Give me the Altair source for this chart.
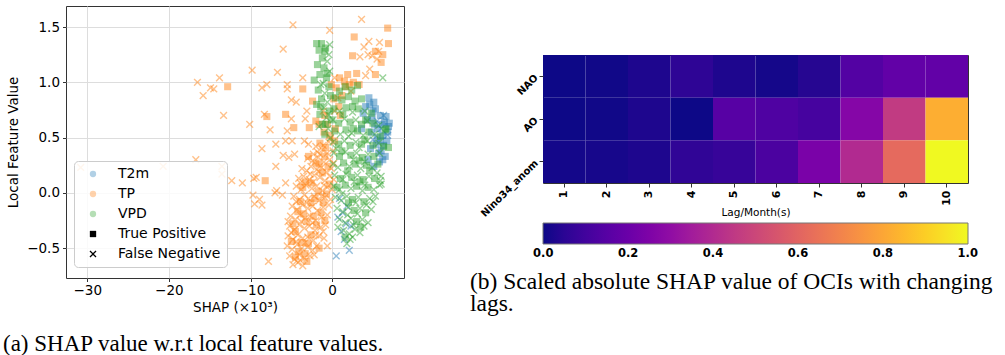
import altair as alt
import pandas as pd

# ---------------- panel (a): SHAP vs local feature value ----------------
# (shap x1e3, local feature value) pairs
T2M_TP = [(4.6,0.80),(5.3,0.76),(5.9,0.70),(6.4,0.64),(6.9,0.60),(6.2,0.52),(6.7,0.47),(5.6,0.58),
          (4.9,0.68),(5.4,0.44),(6.0,0.38),(6.5,0.33),(5.8,0.28),(4.8,0.55),(6.8,0.55),(4.1,0.78),
          (5.1,0.82),(6.1,0.62),(5.7,0.36),(4.4,0.30),(5.0,0.74),(6.3,0.43),(5.5,0.50),(4.3,0.66),
          (3.8,0.72),(4.5,0.86),(5.2,0.62),(6.6,0.69),(7.0,0.63),(5.9,0.47),(6.2,0.30),(5.1,0.24),
          (4.7,0.40),(3.6,0.58)]
T2M_FN = [(0.9,-0.05),(1.3,-0.18),(1.7,-0.28),(1.1,-0.35),(2.1,-0.52),(0.5,-0.57),(1.8,-0.12),
          (6.3,0.70),(5.5,0.65),(6.8,0.52),(1.5,-0.42),(0.7,-0.22),(2.3,-0.30),(6.0,0.58),(5.0,0.48)]

TP_TP = [(-12.8,0.96),(-8.0,0.69),(-8.2,0.11),(-3.6,0.94),(-5.7,0.71),(-4.7,0.59),(-2.8,0.59),
         (-2.4,0.83),(6.8,1.49),(2.7,1.41),(5.3,1.28),(6.9,1.35),(6.2,1.25),(6.0,1.18),(2.5,1.24),
         (5.3,1.07),(1.9,1.07),(3.0,1.08),(2.1,0.98),(0.9,1.04),(1.5,1.01),(-0.1,0.98),(-2.0,0.65),
         (0.5,0.95),(1.2,0.88),(0.8,0.78),(1.6,0.96),(0.2,0.85),(1.0,0.70),(2.6,1.00),(3.3,0.98),
         (-1.6,0.62),(-0.9,0.70),
         (-1.5,0.45),(-0.8,0.41),(-2.0,0.27),(-1.2,0.18),(-0.5,0.24),(-3.3,0.10),(-2.6,0.09),
         (-1.7,0.01),(-0.7,-0.01),(-3.9,-0.08),(-2.6,-0.09),(-1.4,-0.18),(-4.2,-0.17),(-3.1,-0.26),
         (-1.9,-0.29),(-4.5,-0.35),(-3.8,-0.45),(-2.6,-0.38),(-4.1,-0.53),(-3.3,-0.55),(-0.3,0.52),
         (-1.0,0.55),(0.3,0.47),(-0.6,0.62),(0.4,0.58),
         (-2.9,0.33),(-1.6,0.26),(-0.9,0.33),(-3.6,0.05),(-2.1,-0.05),(-1.1,-0.09),(-0.3,0.08),
         (-4.8,-0.28),(-3.5,-0.19),(-2.3,-0.21),(-0.9,-0.25),(-5.0,-0.44),(-2.9,-0.46),(-1.6,-0.50),
         (-4.5,-0.58),(-3.1,-0.62)]
TP_FN = [(-30.8,0.23),(-20.7,0.24),(-16.7,0.30),(-16.5,1.00),(-15.8,0.88),(-14.9,0.95),(-14.5,0.94),
         (-13.8,1.04),(-13.3,0.70),(-13.5,0.24),(-13.5,0.17),(-12.3,0.11),(-11.0,0.09),(-10.1,0.62),
         (-9.8,1.11),(-9.6,0.13),(-9.3,0.14),(-9.7,-0.02),(-9.5,-0.10),(-8.6,0.40),(-8.6,0.95),
         (-8.0,0.98),(-8.3,0.71),(-8.6,-0.11),(-8.9,-0.06),(-7.6,0.57),(-6.9,0.44),(-6.7,1.09),
         (-7.8,-0.62),(-7.0,0.00),(-6.8,0.02),(-6.1,-0.02),(-6.0,1.30),(-5.5,0.98),(-5.5,0.94),
         (-5.0,0.84),(-4.8,1.52),(-4.4,0.82),(-5.0,0.67),(-5.5,0.56),(-5.7,0.47),(-4.9,0.47),
         (-4.6,0.35),(-5.3,0.32),(-6.0,0.34),(-6.9,0.24),(-5.7,0.09),(-5.4,-0.26),(-3.6,1.04),
         (-3.3,0.67),(-3.1,0.74),(-2.9,0.44),(-3.4,0.47),(-0.3,1.47),(3.6,1.57),(5.8,1.36),
         (4.5,1.37),(3.9,1.32),(5.7,1.28),(4.4,1.25),(4.9,1.24),(5.5,1.21),(3.4,1.23),(4.1,1.06),
         (4.6,1.12),(0.3,1.04),(2.3,0.92),(0.7,0.86),(-1.1,0.74),(0.3,0.74),(-0.6,-0.48),
         (-0.4,0.46),(-1.1,0.43),(-0.2,0.49),
         (-1.8,0.37),(-1.2,0.39),(-0.6,0.36),(0.1,0.38),(-2.3,0.35),
         (-3.0,0.31),(-2.4,0.29),(-1.7,0.32),(-1.0,0.28),(-0.3,0.30),(0.2,0.27),
         (-3.7,0.22),(-3.1,0.20),(-2.6,0.24),(-1.9,0.21),(-1.3,0.23),(-0.7,0.19),(-0.1,0.22),
         (-4.1,0.13),(-3.5,0.15),(-2.8,0.12),(-2.2,0.16),(-1.5,0.14),(-0.9,0.11),(-0.3,0.15),(0.2,0.12),
         (-4.4,0.06),(-3.8,0.03),(-3.2,0.07),(-2.5,0.04),(-1.9,0.06),(-1.2,0.02),(-0.6,0.05),(0.0,0.03),
         (-4.7,-0.03),(-4.0,-0.06),(-3.4,-0.02),(-2.9,-0.05),(-2.2,-0.03),(-1.6,-0.07),(-0.9,-0.04),(-0.2,-0.06),
         (-4.9,-0.12),(-4.3,-0.15),(-3.6,-0.11),(-3.0,-0.14),(-2.4,-0.12),(-1.8,-0.16),(-1.1,-0.13),(-0.4,-0.11),
         (-5.1,-0.21),(-4.5,-0.24),(-3.9,-0.20),(-3.3,-0.23),(-2.7,-0.21),(-2.0,-0.25),(-1.3,-0.22),(-0.6,-0.20),
         (-5.2,-0.30),(-4.6,-0.33),(-4.0,-0.29),(-3.4,-0.32),(-2.8,-0.30),(-2.1,-0.34),(-1.4,-0.31),(-0.8,-0.29),
         (-5.4,-0.39),(-4.8,-0.42),(-4.2,-0.38),(-3.6,-0.41),(-3.0,-0.40),(-2.3,-0.43),(-1.6,-0.39),(-1.0,-0.41),
         (-5.5,-0.48),(-4.9,-0.51),(-4.3,-0.47),(-3.7,-0.50),(-3.0,-0.49),(-2.4,-0.52),(-1.9,-0.48),
         (-5.2,-0.57),(-4.6,-0.60),(-4.0,-0.56),(-3.4,-0.59),(-2.7,-0.57),
         (-4.8,-0.65),(-4.2,-0.63),(-3.6,-0.66),
         (-2.0,0.42),(-1.5,0.35),(-2.7,0.17),(-1.6,0.19),(-3.9,0.09),(-2.3,0.10),(-1.0,0.07),
         (-4.4,-0.08),(-3.1,-0.09),(-1.3,-0.03),(-3.8,-0.26),(-2.4,-0.27),(-1.1,-0.35),(-4.4,-0.44),
         (-3.3,-0.45),(-2.0,-0.38),(-5.0,-0.36),(-3.9,-0.61),(-2.2,-0.56)]

VPD_TP = [(-1.9,1.35),(-1.3,1.35),(-1.6,1.29),(-0.9,1.28),(-1.2,1.22),(-1.8,1.16),(-1.0,1.13),
          (-1.5,1.07),(-0.7,1.04),(-2.2,1.02),(-0.4,0.96),(-1.7,0.93),(-0.2,0.88),(-1.3,0.85),
          (-1.9,0.80),(-0.3,0.74),(-1.5,0.71),(-0.1,0.66),(-1.2,0.62),(-0.9,0.53),(-0.8,1.31),
          (1.6,0.96),(2.4,0.93),(3.1,0.97),(0.9,0.92),(0.4,0.86),(1.2,0.84),(2.0,0.87),(2.8,0.83),
          (3.6,0.85),(0.2,0.76),(1.7,0.77),(3.2,0.76),(4.8,0.72),(0.8,0.63),(2.2,0.64),(3.6,0.62),
          (5.0,0.63),(0.3,0.56),(1.7,0.57),(3.1,0.56),(4.5,0.55),(5.9,0.51),(6.5,0.57),(0.8,0.44),
          (2.2,0.43),(3.6,0.44),(5.0,0.43),(6.3,0.42),(0.9,0.33),(2.3,0.34),(3.7,0.32),(5.1,0.33),
          (1.4,0.27),(2.8,0.26),(4.2,0.25),(5.6,0.26),(1.0,0.13),(2.4,0.14),(3.8,0.12),(5.2,0.13),
          (6.9,0.41),(6.6,0.58),(1.6,0.07),(3.0,0.06),(4.4,0.05),(2.5,-0.06),(3.9,-0.08),(2.7,-0.16),
          (4.1,-0.18),(3.0,-0.26),(1.6,-0.40),
          (-0.6,1.08),(-1.4,0.78),(-0.8,0.62),(1.3,0.71),(2.6,0.58),(4.0,0.48),(1.2,0.38),(3.3,0.29),
          (1.9,0.20),(4.6,0.20),(0.6,0.05),(3.4,0.10),(2.0,-0.09),(3.5,-0.31),(2.5,0.78),(4.1,0.66)]
VPD_FN = [(-0.3,1.34),(-0.4,1.25),(-0.6,1.19),(-0.3,1.10),(-1.1,0.99),(-0.9,0.90),(-0.6,0.82),
          (-1.0,0.77),(-0.7,0.68),(-0.5,0.58),(-0.2,0.50),(-1.6,0.60),(-1.4,0.98),(-0.5,0.71),
          (0.9,0.74),(2.5,0.73),(4.0,0.74),(0.1,0.66),(1.5,0.67),(2.9,0.66),(4.3,0.65),(5.7,0.61),
          (1.0,0.53),(2.4,0.54),(3.8,0.52),(5.2,0.53),(0.1,0.46),(1.5,0.47),(2.9,0.46),(4.3,0.47),
          (5.7,0.45),(0.2,0.36),(1.6,0.37),(3.0,0.36),(4.4,0.35),(5.8,0.36),(0.1,0.26),(0.7,0.23),
          (2.1,0.24),(3.5,0.22),(4.9,0.23),(0.3,0.16),(1.7,0.17),(3.1,0.16),(4.5,0.15),(5.9,0.11),
          (0.2,0.06),(0.9,0.03),(2.3,0.04),(3.7,0.02),(5.1,0.03),(5.8,0.07),(0.4,-0.04),(1.1,-0.07),
          (1.8,-0.03),(3.2,-0.04),(4.6,-0.05),(5.3,-0.03),(0.6,-0.14),(1.3,-0.17),(2.0,-0.13),
          (3.4,-0.14),(4.8,-0.15),(0.9,-0.24),(1.6,-0.27),(2.3,-0.23),(3.7,-0.24),(4.4,-0.27),
          (1.4,-0.34),(2.1,-0.37),(2.8,-0.33),(3.4,-0.36),(2.2,-0.42),(6.2,1.04),(6.0,0.08),(6.0,0.15),
          (2.7,0.10),(4.0,0.07),(1.3,0.12),(2.6,0.30),(4.0,0.28),(0.5,0.40),(3.3,0.41),(2.0,0.51),
          (1.2,-0.01),(2.9,-0.09),(4.2,-0.11),(0.7,-0.31),(1.9,-0.20),(3.1,-0.19),(2.6,-0.29),
          (3.9,-0.30),(1.8,-0.46),(2.5,-0.40),(5.5,0.18),(5.0,-0.08)]

KEYS = ["T2m", "TP", "VPD", "True Positive", "False Negative"]
COLORS = ["rgba(31,119,180,0.48)", "rgba(255,127,14,0.48)", "rgba(44,160,44,0.48)", "black", "black"]
LEGEND_COLORS = ["rgba(31,119,180,0.35)", "rgba(255,127,14,0.35)", "rgba(44,160,44,0.35)", "black", "black"]
X_PATH = ("M0.813,-1.096L1.096,-0.813L0.283,0L1.096,0.813L0.813,1.096L0,0.283L-0.813,1.096"
          "L-1.096,0.813L-0.283,0L-1.096,-0.813L-0.813,-1.096L0,-0.283Z")
SHAPES = ["circle", "circle", "circle", "square", X_PATH]
X_TICKS = [-30, -20, -10, 0]
Y_TICKS = [-0.5, 0.0, 0.5, 1.0, 1.5]

# ---------------- panel (b): heatmap ----------------
OCIS = ["NAO", "AO", "Nino34_anom"]
LAGS = [1, 2, 3, 4, 5, 6, 7, 8, 9, 10]
NAO_VALS = [0.00, 0.005, 0.025, 0.055, 0.025, 0.012, 0.04, 0.14, 0.18, 0.18]
AO_VALS = [0.00, 0.005, 0.025, 0.00, 0.15, 0.13, 0.11, 0.27, 0.46, 0.82]
NINO_VALS = [0.01, 0.015, 0.025, 0.06, 0.075, 0.12, 0.24, 0.40, 0.62, 1.00]
CBAR_TICKS = [0.0, 0.2, 0.4, 0.6, 0.8, 1.0]


def frame(pairs, var, outcome):
    return pd.DataFrame({"shap": [p[0] for p in pairs], "val": [p[1] for p in pairs],
                         "variable": var, "outcome": outcome})


scatter_df = pd.concat([
    frame(T2M_TP, "T2m", "True Positive"), frame(T2M_FN, "T2m", "False Negative"),
    frame(TP_TP, "TP", "True Positive"), frame(TP_FN, "TP", "False Negative"),
    frame(VPD_TP, "VPD", "True Positive"), frame(VPD_FN, "VPD", "False Negative"),
], ignore_index=True)

AX_FONT = "DejaVu Sans"

leg = alt.Legend(orient="none", legendX=8, legendY=155, title=None, fillColor="rgba(255,255,255,0.85)",
                 strokeColor="#cccccc", cornerRadius=4, padding=6, labelFontSize=14, labelFont=AX_FONT,
                 labelColor="black", symbolSize=40, symbolStrokeWidth=0, symbolOpacity=1, rowPadding=6,
                 symbolOffset=6, labelOffset=18)

# legend-only layer (no marks drawn): colour + shape on one field -> one merged legend
legend_layer = alt.Chart(pd.DataFrame({"key": KEYS})).mark_point(
    filled=True, opacity=1, strokeWidth=0).transform_filter("false").encode(
    color=alt.Color("key:N", scale=alt.Scale(domain=KEYS, range=LEGEND_COLORS), legend=leg),
    shape=alt.Shape("key:N", scale=alt.Scale(domain=KEYS, range=SHAPES), legend=leg),
)

points = alt.Chart(scatter_df).mark_point(filled=True, size=50, opacity=1, strokeWidth=0).encode(
    x=alt.X("shap:Q", scale=alt.Scale(domain=[-32.6, 8.8], nice=False, zero=False),
            axis=alt.Axis(values=X_TICKS, title="SHAP (×10³)", labelFontSize=13.5, titleFontSize=13.5,
                          titleFontWeight="normal", labelPadding=1.5, titlePadding=4, tickSize=3.5)),
    y=alt.Y("val:Q", scale=alt.Scale(domain=[-0.77, 1.69], nice=False, zero=False),
            axis=alt.Axis(values=Y_TICKS, format=".1f", title="Local Feature Value", labelFontSize=13.5,
                          titleFontSize=13.5, titleFontWeight="normal", labelPadding=3, titlePadding=6,
                          tickSize=3.5)),
    color=alt.Color("variable:N", scale=alt.Scale(domain=KEYS[:3], range=COLORS[:3]), legend=None),
    shape=alt.Shape("outcome:N", scale=alt.Scale(domain=KEYS[3:], range=SHAPES[3:]), legend=None),
)

scatter = alt.layer(legend_layer, points).resolve_scale(
    color="independent", shape="independent"
).properties(
    width=338, height=272,
    title=alt.TitleParams("(a) SHAP value w.r.t local feature values.", orient="bottom", anchor="start",
                          frame="group", dx=-63, offset=19, font="Liberation Serif", fontSize=23,
                          fontWeight="normal", color="black"),
)

heat_df = pd.DataFrame({
    "oci": [o for o in OCIS for _ in LAGS],
    "lag": LAGS * 3,
    "value": NAO_VALS + AO_VALS + NINO_VALS,
})

heat = alt.Chart(heat_df).mark_rect().encode(
    x=alt.X("lag:O", sort=LAGS, scale=alt.Scale(paddingInner=0, paddingOuter=0),
            axis=alt.Axis(title="Lag/Month(s)", labelAngle=270, labelAlign="right", labelBaseline="middle",
                          labelFontWeight="bold", labelFontSize=11, titleFontSize=10.5,
                          titleFontWeight="normal", labelPadding=3, titlePadding=2, tickSize=4)),
    y=alt.Y("oci:N", sort=OCIS, scale=alt.Scale(paddingInner=0, paddingOuter=0),
            axis=alt.Axis(title=None, labelAngle=315, labelAlign="right", labelBaseline="middle",
                          labelFontWeight="bold", labelFontSize=10, labelPadding=3, tickSize=4)),
    color=alt.Color("value:Q", scale=alt.Scale(scheme="plasma", domain=[-0.0005, 1.0005]),
                    legend=alt.Legend(orient="none", legendX=0, legendY=217, direction="horizontal",
                                      gradientLength=425, gradientThickness=21, title=None,
                                      values=CBAR_TICKS, format=".1f", labelFontWeight="bold",
                                      labelFontSize=11.5, labelFont=AX_FONT, labelColor="black",
                                      labelAlign="center", labelOffset=4, gradientStrokeColor="#777",
                                      gradientStrokeWidth=1, padding=0, labelOverlap=False)),
).properties(
    width=425, height=128,
    title=alt.TitleParams(["(b) Scaled absolute SHAP value of OCIs with changing", "lags."],
                          orient="bottom", anchor="start", frame="group", dx=-73, offset=52,
                          font="Liberation Serif", fontSize=23.5, fontWeight="normal", color="black",
                          lineHeight=22),
)

spacer = alt.Chart(pd.DataFrame({"k": [0]})).mark_point(opacity=0, size=1).encode(
    x=alt.value(10), y=alt.value(10)
).properties(width=425, height=47, view=alt.ViewBackground(stroke="transparent"))

right = alt.vconcat(spacer, heat, spacing=0)

chart = alt.hconcat(scatter, right, spacing=64).resolve_scale(
    color="independent", shape="independent"
).resolve_legend(
    color="independent", shape="independent"
).properties(
    padding={"left": 2, "top": 5, "right": 0, "bottom": 0}
).configure_view(stroke="#333333", strokeWidth=1).configure_axis(
    labelFont=AX_FONT, titleFont=AX_FONT, labelColor="black", titleColor="black", tickColor="#333333",
    domain=False, gridColor="#dddddd"
)

chart.save("out.html", embed_options={"renderer": "svg", "actions": False})
